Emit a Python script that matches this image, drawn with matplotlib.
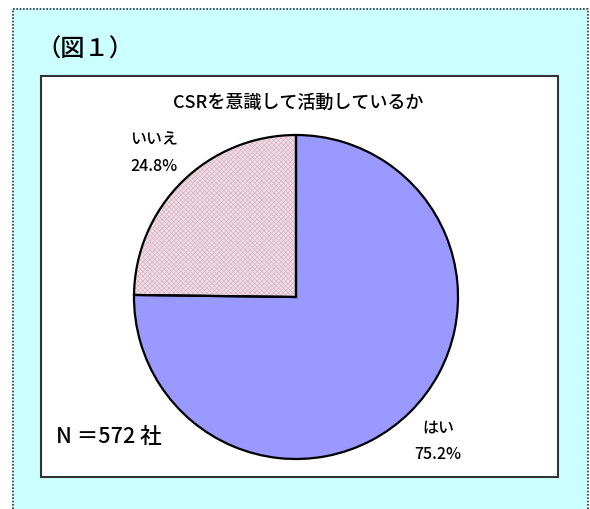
import matplotlib
matplotlib.use("Agg")
import matplotlib.pyplot as plt
from matplotlib.patches import Rectangle
from matplotlib.lines import Line2D

plt.rcParams['font.family'] = ['Noto Sans CJK JP', 'DejaVu Sans']
plt.rcParams['hatch.linewidth'] = 0.5

# data
categories = ['はい', 'いいえ']
shares = [75.2, 24.8]
colors = ['#9999FF', '#F0DCE4']
title = 'CSRを意識して活動しているか'
fig_label = '（図１）'
n_note = 'N ＝572 社'

W, H = 590, 509
fig = plt.figure(figsize=(W / 100, H / 100), dpi=100)
fig.patch.set_facecolor('white')


def fx(px):
    return px / W


def fy(py):
    return 1 - py / H


# cyan panel with dotted border (left, top, right)
fig.patches.append(Rectangle((fx(12), 0), fx(588) - fx(12), fy(8), transform=fig.transFigure,
                             facecolor='#CCFFFF', edgecolor='none', zorder=0))
border = Line2D([fx(12.5), fx(12.5), fx(587.5), fx(587.5)], [0, fy(8.5), fy(8.5), 0],
                transform=fig.transFigure, color='#333333', lw=1.2, ls=(0, (1, 1)))
fig.lines.append(border)

# white chart box
fig.patches.append(Rectangle((fx(41), fy(477)), fx(558) - fx(41), fy(76) - fy(477),
                             transform=fig.transFigure, facecolor='white',
                             edgecolor='#333333', lw=1.5, zorder=1))

fig.text(fx(36), fy(50), fig_label, fontsize=17.5, ha='left', va='center', fontweight='medium')
fig.text(fx(298), fy(103), title, fontsize=13, ha='center', va='center', fontweight='medium')
fig.text(fx(56), fy(437), n_note, fontsize=15.5, ha='left', va='center', fontweight='medium')

# pie
cx, cy, r = 296, 297, 162
ax = fig.add_axes([fx(cx - r), fy(cy + r), fx(2 * r), fy(cy - r) - fy(cy + r)])
ax.set_zorder(2)
labels = [f'{c}\n{s:.1f}%' for c, s in zip(categories, shares)]
wedges, texts = ax.pie(shares, colors=colors, startangle=90, counterclock=False,
                       labels=labels, labeldistance=1.25,
                       wedgeprops=dict(edgecolor='#D9B8C6', linewidth=0))
wedges[1].set_hatch('xxxxxxx')
# black outline on top of the hatched fill
ax.pie(shares, colors=['none', 'none'], startangle=90, counterclock=False,
       wedgeprops=dict(edgecolor='black', linewidth=1.6, fill=False))
for t in texts:
    t.set_ha('center')
    t.set_va('center')
    t.set_fontsize(11.5)
    t.set_linespacing(1.75)
    t.set_fontweight('medium')
ax.set_xlim(-1, 1)
ax.set_ylim(-1, 1)
ax.set_aspect('equal')
ax.axis('off')

fig.savefig('out.png', dpi=100)
